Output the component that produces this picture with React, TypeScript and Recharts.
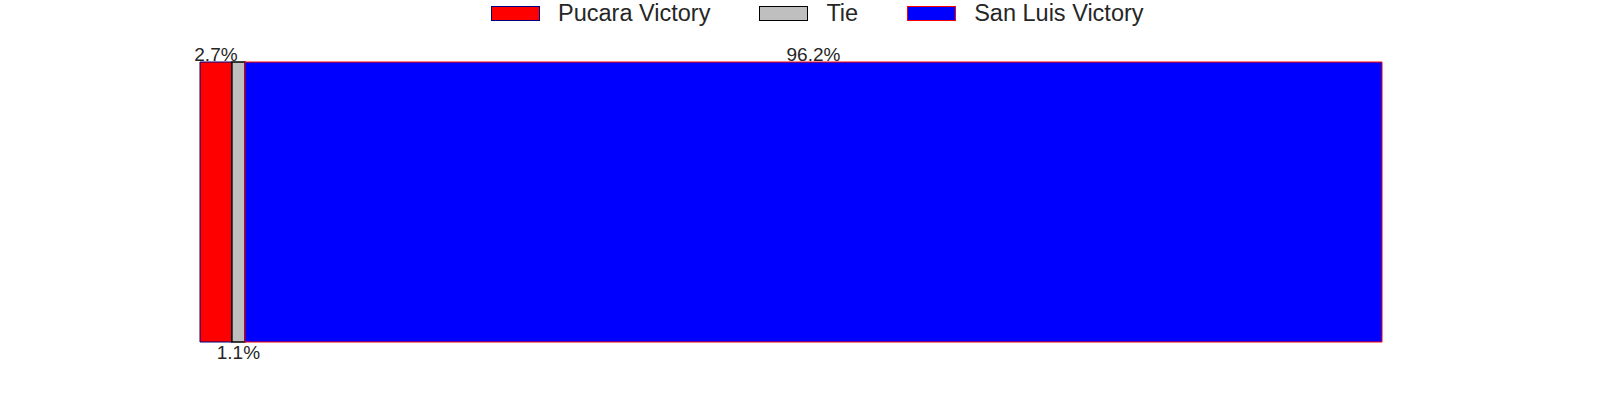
import React from 'react';
import { BarChart, Bar, XAxis, YAxis, LabelList } from 'recharts';

const categories = ['Result'];
const pucaraValues = [2.7];
const tieValues = [1.1];
const sanLuisValues = [96.2];

const seriesNames = ['Pucara Victory', 'Tie', 'San Luis Victory'];
const seriesKeys = ['pucara', 'tie', 'sanluis'];
const fills = ['#ff0000', '#bfbfbf', '#0000ff'];
const strokes = ['#00007f', '#000000', '#ff0000'];
const strokeWidths = [1, 1.5, 1];

const data = categories.map((name, i) => ({
  name,
  pucara: pucaraValues[i],
  tie: tieValues[i],
  sanluis: sanLuisValues[i],
}));

const TEXT_COLOR = '#262626';
const FONT = '"Liberation Sans", Arial, Helvetica, sans-serif';

// label above the bar segment (baseline sitting on the bar's top edge)
const TopLabel = (props: any) => {
  const { x, y, width, value } = props;
  return (
    <text x={x + width / 2} y={y - 1} textAnchor="middle" fill={TEXT_COLOR}
      style={{ fontFamily: FONT, fontSize: 19 }}>
      {value}%
    </text>
  );
};

// label under the bar segment
const BottomLabel = (props: any) => {
  const { x, y, width, height, value } = props;
  return (
    <text x={x + width / 2} y={y + height + 17} textAnchor="middle" fill={TEXT_COLOR}
      style={{ fontFamily: FONT, fontSize: 19 }}>
      {value}%
    </text>
  );
};

const LegendRow: React.FC = () => (
  <div style={{
    position: 'absolute', left: 491, top: 0, display: 'flex', alignItems: 'center', height: 27,
    fontFamily: FONT, fontSize: 23.5, color: TEXT_COLOR, whiteSpace: 'nowrap',
  }}>
    {seriesNames.map((name, i) => (
      <div key={name} style={{ display: 'flex', alignItems: 'center', marginRight: 49 }}>
        <span style={{
          display: 'inline-block', boxSizing: 'border-box', width: 49, height: 15,
          background: fills[i], border: `${strokeWidths[i]}px solid ${strokes[i]}`, marginRight: 18,
        }} />
        <span>{name}</span>
      </div>
    ))}
  </div>
);

const App: React.FC = () => {
  return (
    <div style={{ position: 'absolute', left: 0, top: 0, width: 1600, height: 400, background: '#fff' }}>
      <LegendRow />
      <BarChart
        width={1600}
        height={400}
        data={data}
        layout="vertical"
        barCategoryGap={0}
        margin={{ top: 62, right: 218, bottom: 58, left: 200 }}
      >
        <XAxis type="number" domain={[0, 100]} hide />
        <YAxis type="category" dataKey="name" hide />
        {seriesKeys.map((key, i) => (
          <Bar
            key={key}
            dataKey={key}
            stackId="a"
            fill={fills[i]}
            stroke={strokes[i]}
            strokeWidth={strokeWidths[i]}
            isAnimationActive={false}
          >
            <LabelList dataKey={key} content={i === 1 ? BottomLabel : TopLabel} />
          </Bar>
        ))}
      </BarChart>
    </div>
  );
};

export default App;
